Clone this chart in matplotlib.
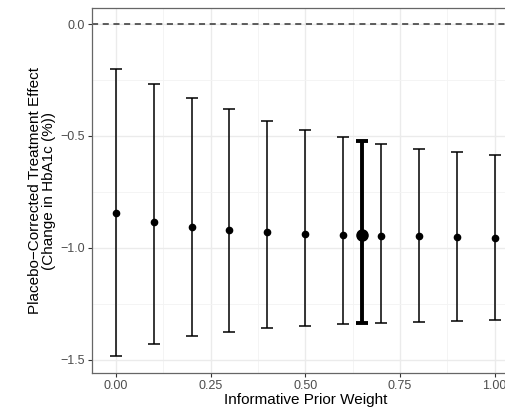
import matplotlib
matplotlib.use("Agg")
import matplotlib.pyplot as plt
import numpy as np

plt.rcParams['font.family'] = ['Liberation Sans', 'DejaVu Sans']

weights = [0.0, 0.1, 0.2, 0.3, 0.4, 0.5, 0.6, 0.7, 0.8, 0.9, 1.0]
estimates = [-0.843, -0.885, -0.907, -0.920, -0.931, -0.937, -0.943, -0.946, -0.949, -0.952, -0.955]
upper = [-0.202, -0.270, -0.329, -0.380, -0.432, -0.472, -0.506, -0.536, -0.557, -0.572, -0.587]
lower = [-1.482, -1.430, -1.394, -1.375, -1.357, -1.349, -1.340, -1.334, -1.330, -1.326, -1.323]

sel_weight = 0.65
sel_estimate = -0.944
sel_upper = -0.523
sel_lower = -1.337

xticks = [0.0, 0.25, 0.5, 0.75, 1.0]
xticklabels = ["0.00", "0.25", "0.50", "0.75", "1.00"]
yticks = [0.0, -0.5, -1.0, -1.5]
yticklabels = ["0.0", "\u22120.5", "\u22121.0", "\u22121.5"]

W, H = 506, 408
fig = plt.figure(figsize=(W/100, H/100), dpi=100)
ax = fig.add_axes([92/W, 35/H, (519.6-92)/W, (373-8)/H])

est = np.array(estimates)
yerr = np.vstack([est - np.array(lower), np.array(upper) - est])
ax.errorbar(weights, est, yerr=yerr, fmt='o', color='black', ms=4.5,
            elinewidth=1.1, capsize=4.2, capthick=1.1, zorder=3)
ax.errorbar([sel_weight], [sel_estimate],
            yerr=[[sel_estimate - sel_lower], [sel_upper - sel_estimate]],
            fmt='o', color='black', ms=8, elinewidth=2.8, capsize=4.2,
            capthick=2.8, zorder=4)

ax.axhline(0, color='#333333', lw=1.1, ls=(0, (4, 3)), zorder=2)

ax.set_xlim(-0.063, 1.066)
ax.set_ylim(-1.559, 0.0715)
ax.set_xticks(xticks)
ax.set_xticklabels(xticklabels)
ax.set_yticks(yticks)
ax.set_yticklabels(yticklabels)
ax.set_xticks([0.125, 0.375, 0.625, 0.875], minor=True)
ax.set_yticks([-0.25, -0.75, -1.25], minor=True)
ax.grid(which='major', color='#EBEBEB', lw=1.0, zorder=0)
ax.grid(which='minor', color='#F3F3F3', lw=0.6, zorder=0)
ax.set_axisbelow(True)
ax.tick_params(which='minor', length=0)
ax.tick_params(which='major', length=3, color='#333333', width=0.8,
               labelsize=9, labelcolor='#4D4D4D', pad=2)
for s in ax.spines.values():
    s.set_color('#666666')
    s.set_linewidth(0.9)

ax.set_xlabel("Informative Prior Weight", fontsize=11, labelpad=1)
ax.set_ylabel("Placebo\u2212Corrected Treatment Effect\n(Change in HbA1c (%))",
              fontsize=11, labelpad=3, linespacing=1.0)

fig.savefig("out.png", dpi=100)
